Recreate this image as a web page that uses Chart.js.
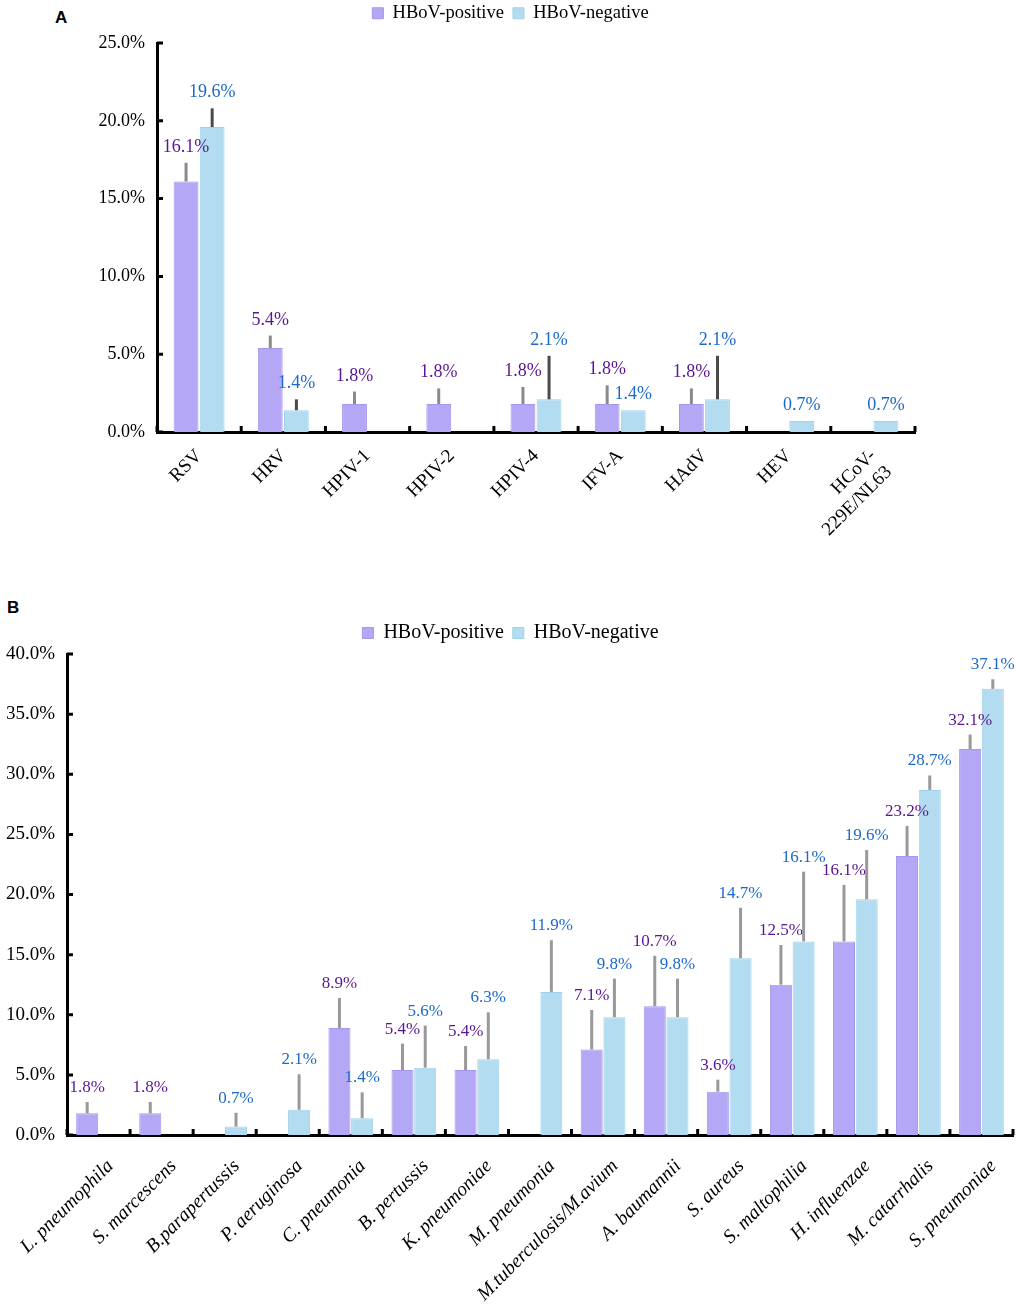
<!DOCTYPE html>
<html>
<head>
<meta charset="utf-8">
<title>HBoV co-detection</title>
<script src="https://cdn.jsdelivr.net/npm/chart.js@4.4.1/dist/chart.umd.min.js"></script>
<style>
  body { margin: 0; background: #fff; width: 1021px; height: 1305px; position: relative; overflow: hidden; }
  .wrap { position: absolute; left: 0; width: 1021px; }
  #wrapA { top: -5px; height: 595px; }
  #wrapB { top: 614px; height: 691px; }
  .tag { position: absolute; font: bold 17px "Liberation Sans", Arial, sans-serif; color: #000; }
</style>
</head>
<body>
<div class="tag" style="left:55px;top:8px">A</div>
<div class="tag" style="left:7px;top:598px">B</div>
<div class="wrap" id="wrapA"><canvas id="chartA"></canvas></div>
<div class="wrap" id="wrapB"><canvas id="chartB"></canvas></div>
<script>
// Panel A: viruses
const virusLabels = ['RSV', 'HRV', 'HPIV-1', 'HPIV-2', 'HPIV-4', 'IFV-A', 'HAdV', 'HEV', ['HCoV-', '229E/NL63']];
const virusPos = [16.1, 5.4, 1.8, 1.8, 1.8, 1.8, 1.8, null, null];
const virusNeg = [19.6, 1.4, null, null, 2.1, 1.4, 2.1, 0.7, 0.7];
// upper end of the error bars (null = none drawn)
const virusPosErr = [17.3, 6.2, 2.6, 2.8, 2.9, 3.0, 2.8, null, null];
const virusNegErr = [20.8, 2.1, null, null, 4.9, null, 4.9, null, null];
const virusTicks = { max: 25, step: 5 };

// Panel B: bacteria
const bactLabels = ['L. pneumophila', 'S. marcescens', 'B.parapertussis', 'P. aeruginosa', 'C. pneumonia',
  'B. pertussis', 'K. pneumoniae', 'M. pneumonia', 'M.tuberculosis/M.avium', 'A. baumannii',
  'S. aureus', 'S. maltophilia', 'H. influenzae', 'M. catarrhalis', 'S. pneumoniae'];
const bactPos = [1.8, 1.8, null, null, 8.9, 5.4, 5.4, null, 7.1, 10.7, 3.6, 12.5, 16.1, 23.2, 32.1];
const bactNeg = [null, null, 0.7, 2.1, 1.4, 5.6, 6.3, 11.9, 9.8, 9.8, 14.7, 16.1, 19.6, 28.7, 37.1];
const bactPosErr = [2.75, 2.75, null, null, 11.4, 7.6, 7.4, null, 10.4, 14.9, 4.6, 15.8, 20.8, 25.7, 33.3];
const bactNegErr = [null, null, 1.85, 5.05, 3.55, 9.1, 10.2, 16.2, 13.0, 13.0, 18.9, 21.9, 23.7, 29.9, 37.9];
const bactTicks = { max: 40, step: 5 };

const SERIF = '"Liberation Serif", "Times New Roman", serif';
Chart.defaults.font.family = SERIF;
Chart.defaults.color = '#000';

// error bars + value labels, placed from the bar elements and the y scale
const barExtras = {
  id: 'barExtras',
  afterDatasetsDraw(chart, args, opts) {
    const ctx = chart.ctx;
    const y = chart.scales.y;
    chart.data.datasets.forEach((ds, di) => {
      const meta = chart.getDatasetMeta(di);
      meta.data.forEach((bar, i) => {
        const v = ds.data[i];
        if (v == null) return;
        let top = bar.y;
        const e = ds.errTop[i];
        if (e != null) {
          const ey = y.getPixelForValue(e);
          ctx.save();
          ctx.strokeStyle = ds.errColor;
          ctx.lineWidth = 3;
          ctx.beginPath();
          ctx.moveTo(bar.x, bar.y);
          ctx.lineTo(bar.x, ey);
          ctx.stroke();
          ctx.restore();
          top = ey;
        }
        ctx.save();
        ctx.fillStyle = ds.labelColor;
        ctx.font = opts.size + 'px ' + SERIF;
        ctx.textAlign = 'center';
        ctx.textBaseline = 'alphabetic';
        ctx.fillText(v.toFixed(1) + '%', bar.x, top - opts.gap);
        ctx.restore();
      });
    });
  }
};

// small tick marks pointing into the plot
const innerTicks = {
  id: 'innerTicks',
  afterDraw(chart) {
    const { ctx, chartArea: a } = chart;
    const x = chart.scales.x, y = chart.scales.y;
    ctx.save();
    ctx.strokeStyle = '#000';
    ctx.lineWidth = 3;
    ctx.beginPath();
    y.ticks.forEach((t, i) => {
      const py = y.getPixelForTick(i);
      ctx.moveTo(a.left, py);
      ctx.lineTo(a.left + 6, py);
    });
    for (let i = 0; i <= x.ticks.length; i++) {
      const px = x.getPixelForValue(i - 0.5);
      ctx.moveTo(px, a.bottom);
      ctx.lineTo(px, a.bottom - 6);
    }
    ctx.stroke();
    ctx.restore();
  }
};

function makeChart(id, cfg) {
  // fixed legend height, and centre the legend over the whole canvas
  const legendFix = {
    id: 'legendFix',
    beforeInit(chart) {
      const fit = chart.legend.fit;
      chart.legend.fit = function () {
        fit.bind(chart.legend)();
        this.height = cfg.legendH;
      };
    },
    afterLayout(chart) {
      chart.legend.left = 0;
      chart.legend.right = chart.width;
      chart.legend.width = chart.width;
    }
  };
  return new Chart(document.getElementById(id), {
    type: 'bar',
    data: {
      labels: cfg.labels,
      datasets: [
        {
          label: 'HBoV-positive', data: cfg.pos, errTop: cfg.posErr,
          backgroundColor: '#b4a8f6', borderColor: '#a597ee', borderWidth: 1,
          errColor: cfg.posErrColor, labelColor: '#5a1690',
          categoryPercentage: cfg.catPct, barPercentage: cfg.barPct
        },
        {
          label: 'HBoV-negative', data: cfg.neg, errTop: cfg.negErr,
          backgroundColor: '#b3dcf0', borderColor: '#9fd1ea', borderWidth: 1,
          errColor: cfg.negErrColor, labelColor: '#1c6ac8',
          categoryPercentage: cfg.catPct, barPercentage: cfg.barPct
        }
      ]
    },
    options: {
      responsive: true,
      maintainAspectRatio: false,
      animation: false,
      devicePixelRatio: 1,
      layout: { padding: { left: 0, top: 0, right: cfg.padRight, bottom: 0 } },
      plugins: {
        legend: {
          position: 'top',
          labels: {
            boxWidth: 11, boxHeight: 11, padding: 9,
            font: { size: cfg.legendSize, family: SERIF }, color: '#000'
          }
        },
        tooltip: { enabled: false },
        barExtras: { size: cfg.valueSize, gap: cfg.valueGap }
      },
      scales: {
        x: {
          grid: { display: false, drawTicks: false },
          border: { display: true, color: '#000', width: 3 },
          ticks: {
            autoSkip: false, minRotation: 45, maxRotation: 45,
            padding: cfg.xPad, labelOffset: cfg.xOffset,
            font: { size: cfg.xSize, style: cfg.xStyle, family: SERIF }, color: '#000'
          },
          afterFit(s) {
            s.height = cfg.xHeight;
            s.paddingLeft = 0;
            s.paddingRight = 0;
          }
        },
        y: {
          min: 0, max: cfg.ticks.max,
          grid: { display: false, drawTicks: false },
          border: { display: true, color: '#000', width: 3 },
          ticks: {
            stepSize: cfg.ticks.step, padding: 12,
            font: { size: cfg.ySize, family: SERIF }, color: '#000',
            callback: v => v.toFixed(1) + '%'
          },
          afterFit(s) { s.width = cfg.yWidth; }
        }
      }
    },
    plugins: [legendFix, barExtras, innerTicks]
  });
}

makeChart('chartA', {
  labels: virusLabels, pos: virusPos, neg: virusNeg, posErr: virusPosErr, negErr: virusNegErr,
  ticks: virusTicks, posErrColor: '#8a8a8a', negErrColor: '#4a4a4a',
  catPct: 0.62, barPct: 0.95, legendH: 48, legendSize: 18.5, padRight: 106,
  yWidth: 157, xHeight: 158, xPad: 13, xOffset: 0, xSize: 19, xStyle: 'normal',
  ySize: 18, valueSize: 18, valueGap: 11
});

makeChart('chartB', {
  labels: bactLabels, pos: bactPos, neg: bactNeg, posErr: bactPosErr, negErr: bactNegErr,
  ticks: bactTicks, posErrColor: '#999999', negErrColor: '#999999',
  catPct: 0.72, barPct: 0.97, legendH: 40, legendSize: 20, padRight: 8,
  yWidth: 67, xHeight: 170, xPad: 20, xOffset: 12, xSize: 19.5, xStyle: 'italic',
  ySize: 19, valueSize: 17, valueGap: 10
});
</script>
</body>
</html>
